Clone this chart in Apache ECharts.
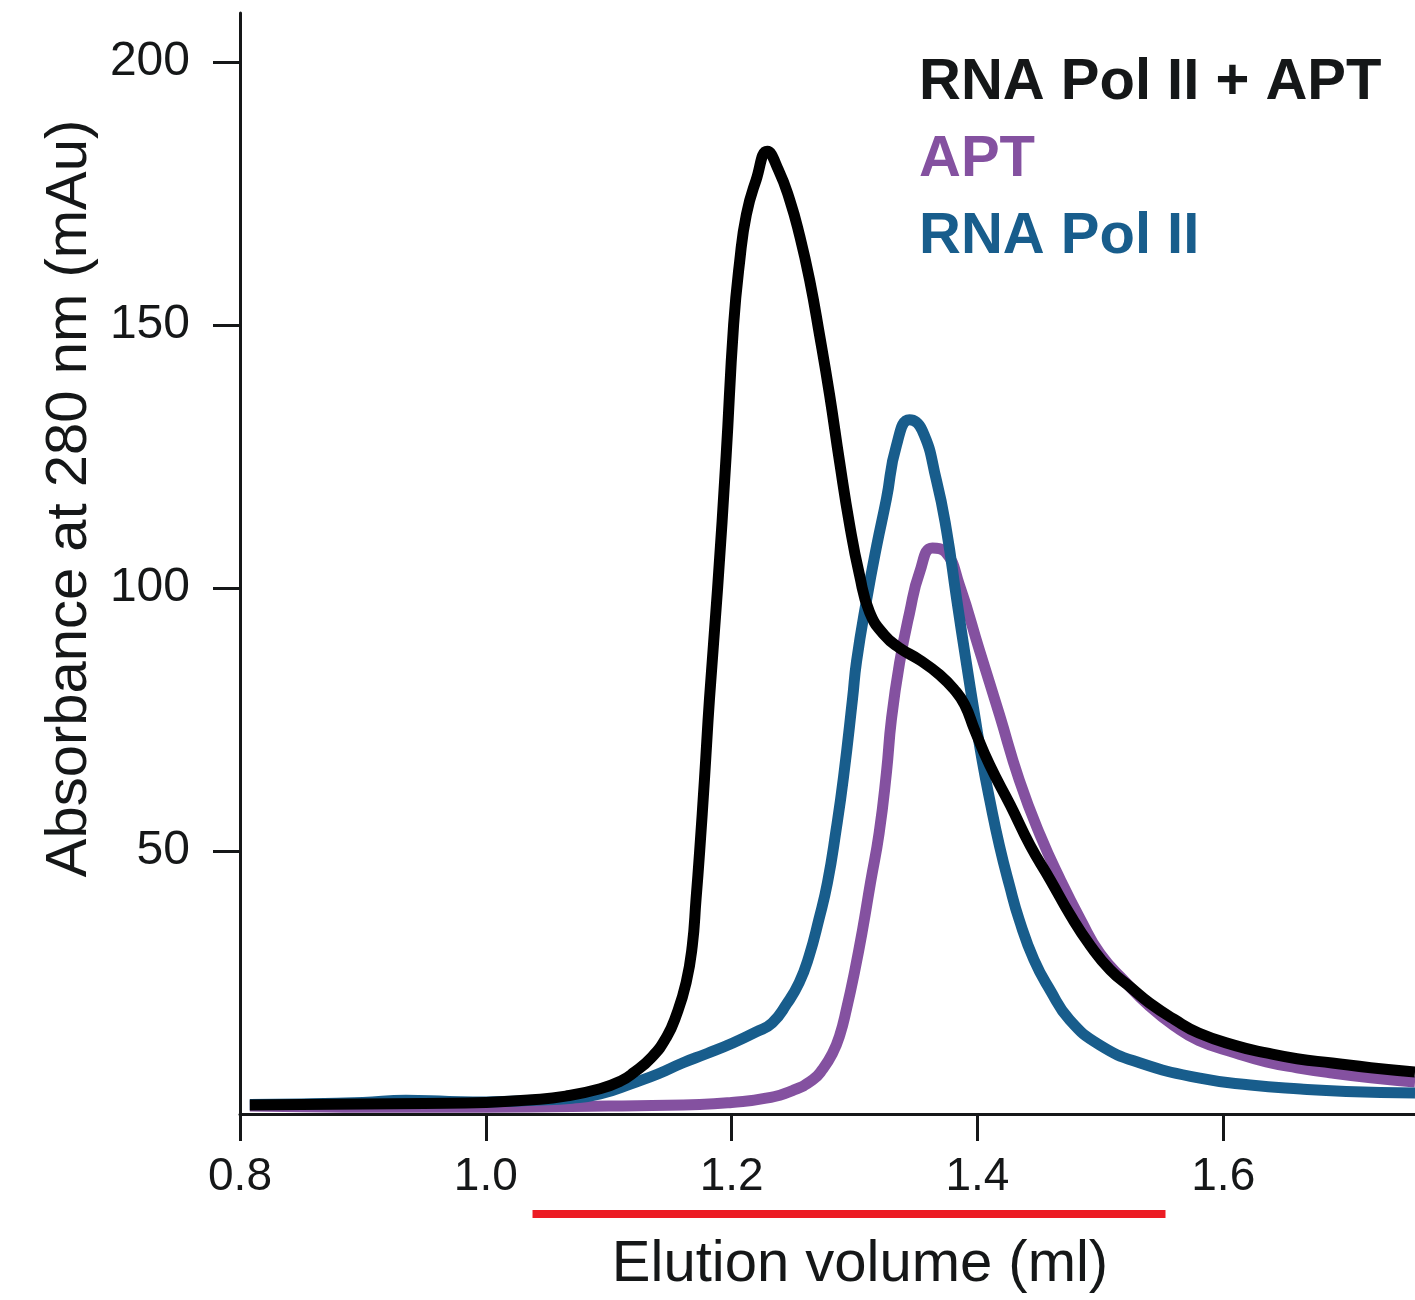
<!DOCTYPE html>
<html>
<head>
<meta charset="utf-8">
<title>Size-exclusion chromatogram</title>
<script src="https://cdn.jsdelivr.net/npm/echarts@6/dist/echarts.min.js"></script>
<style>
  html, body { margin: 0; padding: 0; background: #ffffff; }
  #chart { width: 1415px; height: 1300px; }
</style>
</head>
<body>
<div id="chart"></div>
<script>
// Elution profiles: [elution volume (ml), absorbance at 280 nm (mAu)]
const complexTrace = [
  [0.808,1.7],[0.85,1.8],[0.90,1.9],[0.95,2.0],[1.00,2.2],[1.038,2.7],[1.065,3.4],
  [1.093,4.8],[1.11,6.3],[1.12,7.8],[1.135,10.8],[1.147,14.6],[1.155,18.8],[1.163,25],
  [1.168,32],[1.171,40.7],[1.174,50],[1.178,64],[1.182,79],[1.1886,100],[1.1955,125],
  [1.2016,150],[1.2065,162],[1.212,171],[1.220,177.6],[1.229,183],[1.238,179.5],
  [1.2472,173.8],[1.2553,167],[1.2634,158.6],[1.2716,148],[1.2797,136.7],[1.2878,124],
  [1.296,112],[1.304,102.5],[1.3122,95.4],[1.3244,91],[1.3366,88.6],[1.353,86.3],
  [1.3692,83.5],[1.3814,80.6],[1.3896,77.8],[1.3977,73],[1.41,66.3],[1.4268,58.7],
  [1.443,51],[1.4593,44.5],[1.4756,37.8],[1.4919,32],[1.508,27.4],[1.525,24],
  [1.540,21.1],[1.56,18],[1.580,15.4],[1.61,13],[1.635,11.6],[1.66,10.5],[1.6886,9.7],
  [1.72,8.8],[1.756,8.0]
];

const aptTrace = [
  [0.808,1.5],[0.85,1.4],[0.90,1.3],[1.00,1.3],[1.10,1.5],[1.174,1.8],[1.20,2.2],
  [1.228,3.0],[1.25,4.5],[1.266,6.5],[1.274,8.5],[1.282,11.5],[1.288,15],[1.2935,20],
  [1.30,27],[1.3065,35],[1.313,44],[1.320,53.4],[1.326,65],[1.330,75],[1.3366,85.7],
  [1.3447,95.2],[1.353,103],[1.3634,107.6],[1.374,106.8],[1.3854,100.5],[1.4016,88.2],
  [1.4179,75.9],[1.434,63.5],[1.451,53],[1.4675,44.5],[1.484,36.9],[1.50,30.4],
  [1.52,25.2],[1.540,20.5],[1.56,16.8],[1.580,14],[1.61,11.6],[1.635,9.9],[1.66,8.8],
  [1.6886,7.8],[1.72,6.9],[1.756,6.1]
];

const polIITrace = [
  [0.808,1.8],[0.85,1.9],[0.90,2.2],[0.935,2.6],[0.97,2.4],[1.00,2.3],[1.04,2.6],
  [1.07,3.0],[1.093,3.8],[1.12,5.9],[1.14,7.6],[1.16,9.7],[1.18,11.5],[1.201,13.5],
  [1.22,15.6],[1.233,17.3],[1.245,21],[1.255,25],[1.263,30],[1.271,37],[1.278,44],
  [1.285,54],[1.291,64],[1.2984,79],[1.3016,86],[1.310,98],[1.318,108],[1.326,117],
  [1.334,127],[1.3447,132],[1.355,130],[1.3666,120.5],[1.3748,111],[1.383,98],
  [1.391,85.7],[1.3976,76],[1.404,67],[1.41,59.7],[1.4179,51],[1.426,43.5],
  [1.434,36.9],[1.446,29.3],[1.459,23.6],[1.475,17.9],[1.4996,13.1],[1.5325,9.7],
  [1.581,6.8],[1.622,5.5],[1.663,4.75],[1.70,4.3],[1.756,4.0]
];

const seriesNames = ['RNA Pol II + APT', 'APT', 'RNA Pol II'];
const seriesColors = ['#000000', '#8451a0', '#185d8c'];

const xTicks = [0.8, 1.0, 1.2, 1.4, 1.6];
const yTicks = [50, 100, 150, 200];

// Collected fraction range shown under the volume axis (ml)
const fractionRange = [1.038, 1.553];

const FONT = '"Liberation Sans", Arial, Helvetica, sans-serif';
const INK = '#151718';

const chart = echarts.init(document.getElementById('chart'), null, { renderer: 'canvas' });

const traces = [complexTrace, aptTrace, polIITrace];
// Draw order: APT underneath, Pol II above it, complex on top
const drawOrder = [1, 2, 0];

const option = {
  animation: false,
  backgroundColor: '#ffffff',
  grid: { left: 240, right: 0, top: 13, bottom: 186, containLabel: false },
  legend: {
    orient: 'vertical',
    left: 909,
    top: 49,
    icon: 'none',
    itemWidth: 0,
    itemHeight: 0,
    itemGap: 19,
    selectedMode: false,
    textStyle: { fontFamily: FONT, fontSize: 58, fontWeight: 'bold', lineHeight: 58 },
    data: seriesNames.map((n, i) => ({ name: n, textStyle: { color: i === 0 ? INK : seriesColors[i] } }))
  },
  xAxis: {
    type: 'value',
    min: 0.8,
    max: 1.756,
    name: 'Elution volume (ml)',
    nameLocation: 'middle',
    nameGap: 122,
    nameTextStyle: { fontFamily: FONT, fontSize: 58, color: INK, padding: [0, 0, 0, 65] },
    axisLine: { show: true, onZero: false, lineStyle: { color: INK, width: 3 } },
    axisTick: { show: true, inside: false, length: 27, customValues: xTicks, lineStyle: { color: INK, width: 3 } },
    axisLabel: {
      customValues: xTicks,
      margin: 40,
      fontFamily: FONT, fontSize: 46, color: INK,
      formatter: v => v.toFixed(1)
    },
    splitLine: { show: false }
  },
  yAxis: {
    type: 'value',
    min: 0,
    max: 209.3,
    name: 'Absorbance at 280 nm (mAu)',
    nameLocation: 'middle',
    nameGap: 140,
    nameRotate: 90,
    nameTextStyle: { fontFamily: FONT, fontSize: 58, color: INK, padding: [0, 0, 0, 130] },
    axisLine: { show: true, lineStyle: { color: INK, width: 3 } },
    axisTick: { show: true, inside: false, length: 27, customValues: yTicks, lineStyle: { color: INK, width: 3 } },
    axisLabel: {
      customValues: yTicks,
      margin: 50,
      fontFamily: FONT, fontSize: 48, color: INK
    },
    splitLine: { show: false }
  },
  series: drawOrder.map(i => ({
    name: seriesNames[i],
    type: 'line',
    data: traces[i],
    showSymbol: false,
    symbol: 'none',
    smooth: 0.5,
    clip: true,
    color: seriesColors[i],
    lineStyle: { color: seriesColors[i], width: 11, join: 'round', cap: 'butt' },
    emphasis: { disabled: true }
  }))
};

chart.setOption(option);

// Red bar marking the collected fractions, placed through the x scale
const x0 = chart.convertToPixel({ xAxisIndex: 0 }, fractionRange[0]);
const x1 = chart.convertToPixel({ xAxisIndex: 0 }, fractionRange[1]);
chart.setOption({
  graphic: [{
    type: 'line',
    shape: { x1: x0, y1: 1214, x2: x1, y2: 1214 },
    style: { stroke: '#ec1c24', lineWidth: 8 }
  }]
});
</script>
</body>
</html>
